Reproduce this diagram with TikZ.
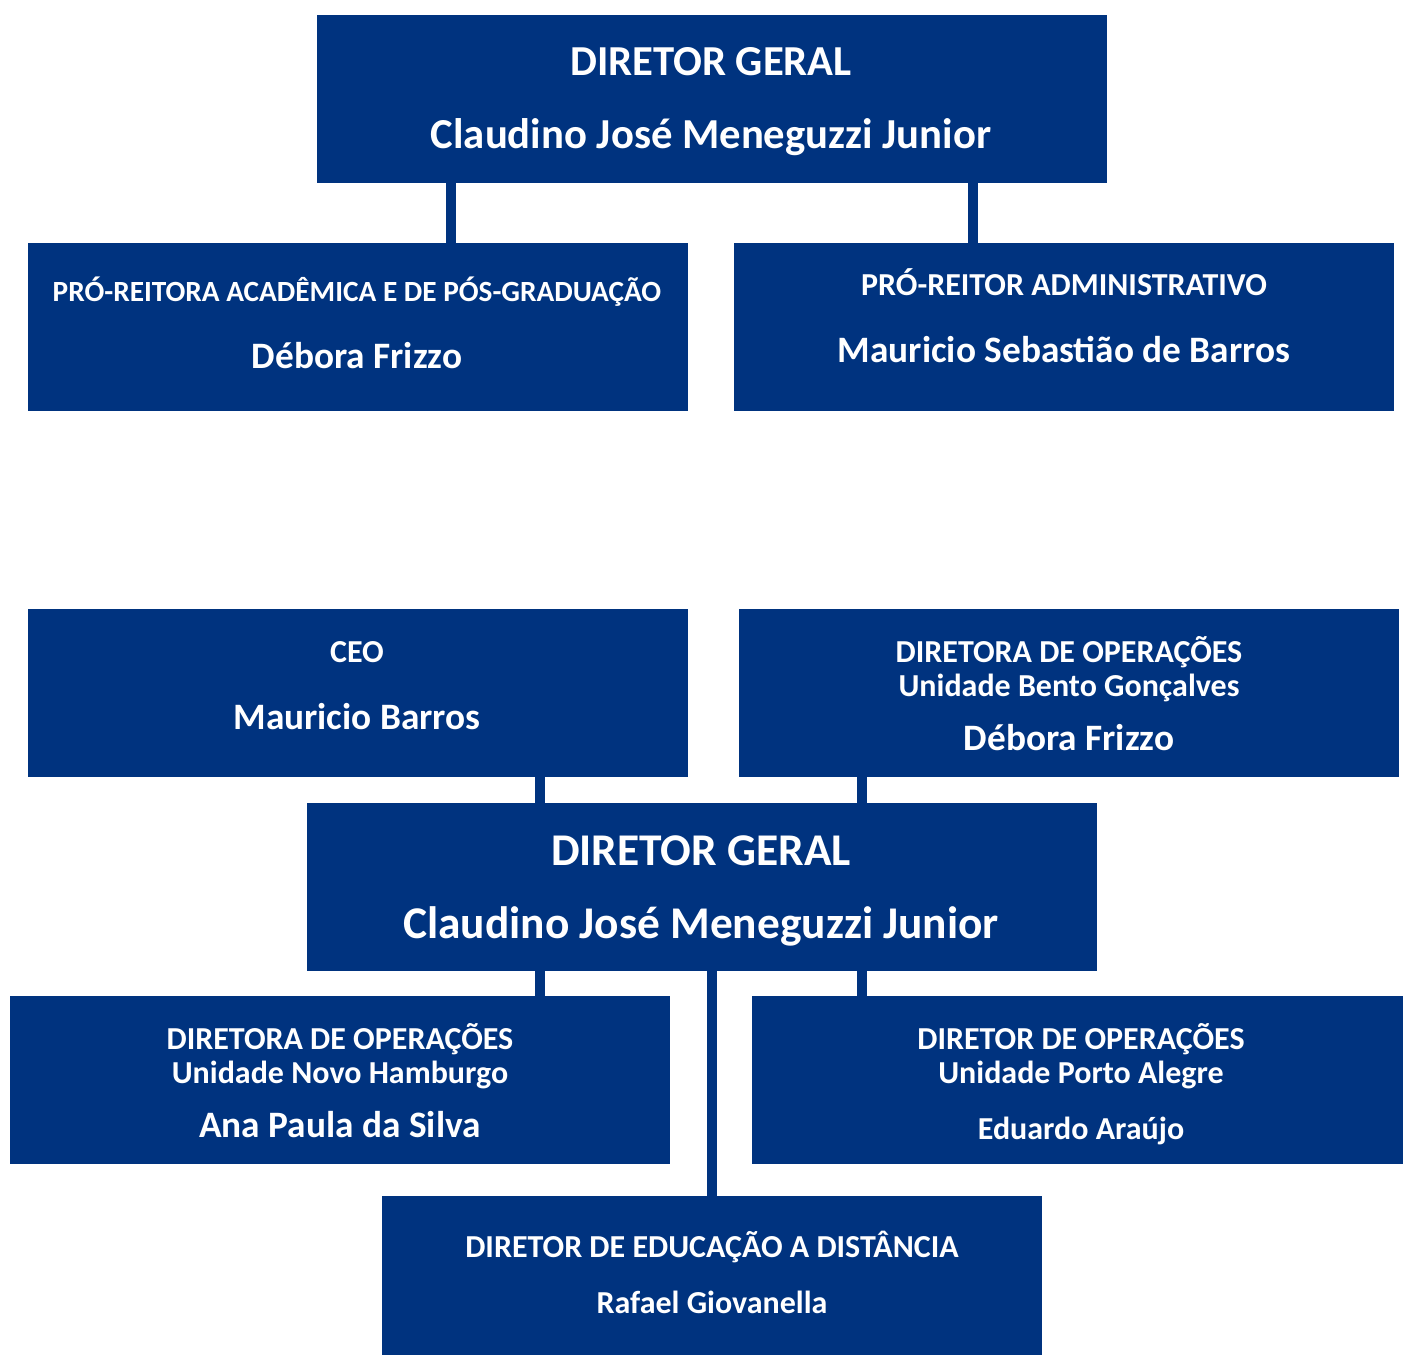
\documentclass[tikz,border=0pt]{standalone}
\usepackage{fontspec}
\setmainfont{Carlito}
\definecolor{navy}{HTML}{00337F}
\tikzset{
  box/.style={fill=navy, draw=none, inner sep=0pt, anchor=north west, minimum width=660pt, minimum height=168pt},
  widebox/.style={box, minimum width=790pt},
  txt/.style={text=white, anchor=base, inner sep=0pt},
  smalltxt/.style={txt, font=\bfseries\fontsize{32}{32}\selectfont},
  nametxt/.style={txt, font=\bfseries\fontsize{37.3}{37.3}\selectfont},
  conn/.style={draw=navy, line width=10pt},
}
\begin{document}
\begin{tikzpicture}[x=1pt,y=-1pt]
\useasboundingbox (0,0) rectangle (1403,1355);
\fill[white] (0,0) rectangle (1403,1355);
% boxes
\node[widebox] (dg1) at (317,15) {};
\node[box] (pra) at (28,243) {};
\node[box] (padm) at (734,243) {};
\node[box] (ceo) at (28,609) {};
\node[box] (dobg) at (739,609) {};
\node[widebox] (dg2) at (307,803) {};
\node[box] (donh) at (10,996) {};
\node[box, minimum width=651pt] (dopoa) at (752,996) {};
\node[box, minimum height=159pt] (ded) at (382,1196) {};
% connectors
\coordinate (c1) at (451,0);
\coordinate (c2) at (973,0);
\coordinate (c3) at (540,0);
\coordinate (c4) at (862,0);
\coordinate (c5) at (712,0);
\draw[conn] (dg1.south -| c1) -- (pra.north -| c1);
\draw[conn] (dg1.south -| c2) -- (padm.north -| c2);
\draw[conn] (ceo.south -| c3) -- (dg2.north -| c3);
\draw[conn] (dobg.south -| c4) -- (dg2.north -| c4);
\draw[conn] (dg2.south -| c3) -- (donh.north -| c3);
\draw[conn] (dg2.south -| c4) -- (dopoa.north -| c4);
\draw[conn] (dg2.south -| c5) -- (ded.north -| c5);
% texts
\node[txt, font=\bfseries\fontsize{42.7}{42.7}\selectfont] (t1a) at (711,75) {DIRETOR GERAL};
\node[txt, font=\bfseries\fontsize{42.7}{42.7}\selectfont] (t1b) at (711,148) {Claudino José Meneguzzi Junior};
\node[txt, font=\bfseries\fontsize{29.3}{29.3}\selectfont] (t2a) at (357,301) {PRÓ-REITORA ACADÊMICA E DE PÓS-GRADUAÇÃO};
\node[nametxt] (t2b) at (357,368) {Débora Frizzo};
\node[smalltxt] (t3a) at (1064,295) {PRÓ-REITOR ADMINISTRATIVO};
\node[nametxt] (t3b) at (1064,362) {Mauricio Sebastião de Barros};
\node[smalltxt] (t4a) at (357,662) {CEO};
\node[nametxt] (t4b) at (357,729) {Mauricio Barros};
\node[smalltxt] (t5a) at (1069,662) {DIRETORA DE OPERAÇÕES};
\node[smalltxt] (t5b) at (1069,696) {Unidade Bento Gonçalves};
\node[nametxt] (t5c) at (1069,750) {Débora Frizzo};
\node[txt, font=\bfseries\fontsize{45.4}{45.4}\selectfont] (t6a) at (701,865) {DIRETOR GERAL};
\node[txt, font=\bfseries\fontsize{45.4}{45.4}\selectfont] (t6b) at (701,938) {Claudino José Meneguzzi Junior};
\node[smalltxt] (t7a) at (340,1049) {DIRETORA DE OPERAÇÕES};
\node[smalltxt] (t7b) at (340,1083) {Unidade Novo Hamburgo};
\node[nametxt] (t7c) at (340,1137) {Ana Paula da Silva};
\node[smalltxt] (t8a) at (1081,1049) {DIRETOR DE OPERAÇÕES};
\node[smalltxt] (t8b) at (1081,1083) {Unidade Porto Alegre};
\node[smalltxt] (t8c) at (1081,1139) {Eduardo Araújo};
\node[smalltxt] (t9a) at (712,1257) {DIRETOR DE EDUCAÇÃO A DISTÂNCIA};
\node[smalltxt] (t9b) at (712,1313) {Rafael Giovanella};
\end{tikzpicture}
\end{document}
